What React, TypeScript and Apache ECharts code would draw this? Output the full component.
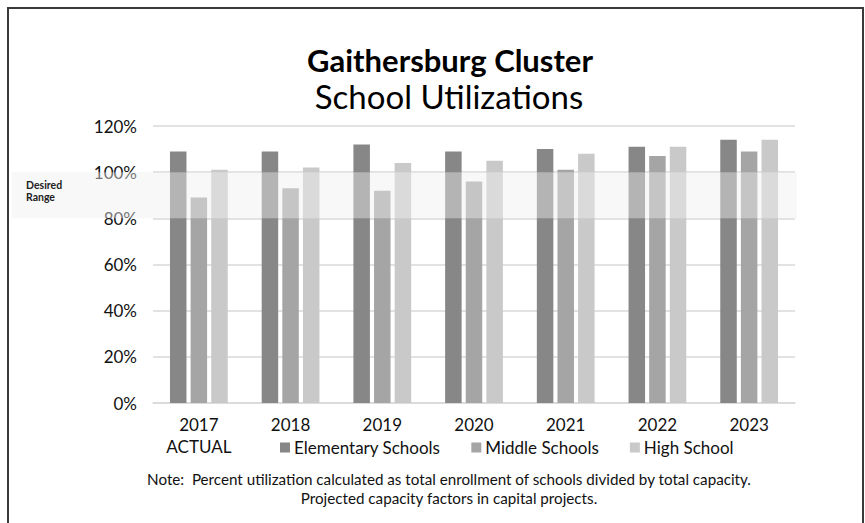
import React, { useEffect, useRef } from 'react';
import * as echarts from 'echarts';

const categories = ['2017\nACTUAL', '2018', '2019', '2020', '2021', '2022', '2023'];
const elementary = [109, 109, 112, 109, 110, 111, 114];
const middle = [89, 93, 92, 96, 101, 107, 109];
const high = [101, 102, 104, 105, 108, 111, 114];
const seriesNames = ['Elementary Schools', 'Middle Schools', 'High School'];
const seriesColors = ['#878787', '#a5a5a5', '#c9c9c9'];
const desiredRange = [80, 100];
const FONT = 'Lato, "Open Sans", sans-serif';

export default function App() {
  const ref = useRef<HTMLDivElement>(null);
  useEffect(() => {
    document.body.style.margin = '0';
    const chart = echarts.init(ref.current!, undefined, { renderer: 'svg' });
    const data = [elementary, middle, high];
    chart.setOption({
      animation: false,
      backgroundColor: '#ffffff',
      textStyle: { fontFamily: FONT },
      title: [
        {
          text: 'Gaithersburg Cluster',
          left: 450,
          top: 44,
          textAlign: 'center',
          padding: 0,
          textStyle: { fontFamily: FONT, fontSize: 31, fontWeight: 'bold', color: '#000' },
        },
        {
          text: 'School Utilizations',
          left: 449,
          top: 79,
          textAlign: 'center',
          padding: 0,
          textStyle: { fontFamily: FONT, fontSize: 33, fontWeight: 'normal', color: '#000' },
        },
        {
          text: 'Note:  Percent utilization calculated as total enrollment of schools divided by total capacity.\nProjected capacity factors in capital projects.',
          left: 449,
          top: 469,
          textAlign: 'center',
          padding: 0,
          textStyle: { fontFamily: FONT, fontSize: 15.2, fontWeight: 'normal', color: '#111', lineHeight: 19 },
        },
      ],
      legend: {
        top: 439,
        left: 280,
        padding: 0,
        itemWidth: 10,
        itemHeight: 10,
        itemGap: 31,
        icon: 'rect',
        textStyle: { fontFamily: FONT, fontSize: 17, color: '#111', padding: [0, 0, 0, -1] },
        data: seriesNames,
      },
      grid: { left: 153, right: 70, top: 126, bottom: 120, containLabel: false },
      xAxis: {
        type: 'category',
        data: categories,
        axisLine: { show: true, lineStyle: { color: '#d9d9d9', width: 1.5 } },
        axisTick: { show: false },
        axisLabel: { fontFamily: FONT, fontSize: 17, color: '#111', margin: 10, lineHeight: 22, interval: 0 },
      },
      yAxis: {
        type: 'value',
        min: 0,
        max: 120,
        interval: 20,
        axisLine: { show: false },
        axisTick: { show: false },
        splitLine: { lineStyle: { color: '#d9d9d9', width: 1.5 } },
        axisLabel: { fontFamily: FONT, fontSize: 17, color: '#111', margin: 16, formatter: '{value}%' },
      },
      series: seriesNames.map((name, i) => ({
        name,
        type: 'bar',
        data: data[i],
        barWidth: 16.5,
        barGap: '25%',
        itemStyle: { color: seriesColors[i] },
      })),
    });

    const yTop = chart.convertToPixel({ yAxisIndex: 0 }, desiredRange[1]) as number;
    const yBot = chart.convertToPixel({ yAxisIndex: 0 }, desiredRange[0]) as number;
    chart.setOption({
      graphic: [
        {
          type: 'rect',
          z: 100,
          silent: true,
          shape: { x: 12, y: yTop, width: 785, height: yBot - yTop },
          style: { fill: 'rgba(239,239,239,0.44)' },
        },
        {
          type: 'text',
          z: 101,
          left: 26,
          top: (yTop + yBot) / 2 - 17,
          style: {
            text: 'Desired\nRange',
            font: `bold 10.5px ${FONT}`,
            fill: '#222',
            lineHeight: 12.5,
          },
        },
        {
          type: 'rect',
          z: 102,
          silent: true,
          shape: { x: 8, y: 8, width: 855, height: 525 },
          style: { fill: 'none', stroke: '#3a3a3a', lineWidth: 2 },
        },
      ],
    });
    return () => chart.dispose();
  }, []);
  return <div ref={ref} style={{ width: 865, height: 523 }} />;
}
